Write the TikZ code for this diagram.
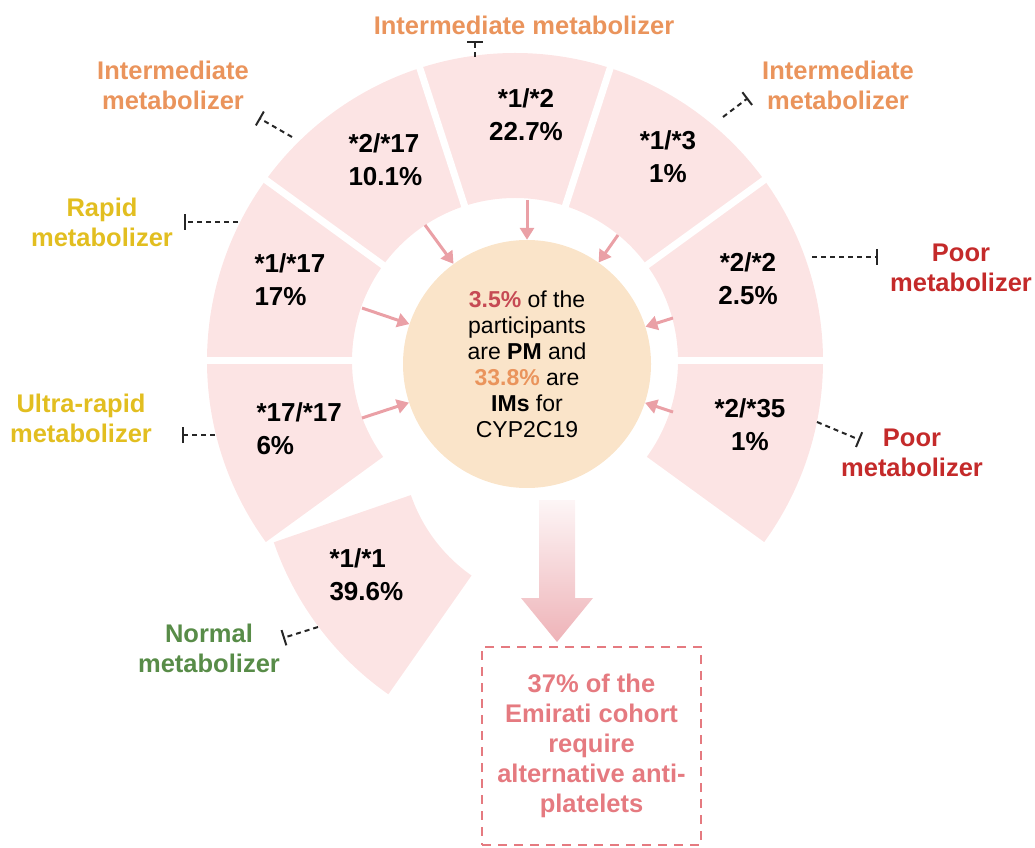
\documentclass[tikz,border=0pt]{standalone}
\usepackage{fontspec}
\setmainfont{Liberation Sans}
\usepackage{tikz}
\usetikzlibrary{arrows.meta,positioning,calc}
\definecolor{slicepink}{RGB}{252,228,228}
\definecolor{hubpeach}{RGB}{250,228,201}
\definecolor{imorange}{RGB}{234,148,92}
\definecolor{rmyellow}{RGB}{226,190,32}
\definecolor{pmred}{RGB}{196,42,42}
\definecolor{nmgreen}{RGB}{88,140,72}
\definecolor{flowpink}{RGB}{234,160,166}
\definecolor{cohortpink}{RGB}{229,122,128}
\definecolor{pctred}{RGB}{198,74,84}
% annular slice: centre, start angle, end angle
\newcommand{\slice}[3]{%
  \fill[slicepink] (#1) ++(#2:163) arc[start angle=#2, end angle=#3, radius=163]
    -- ++(#3:145) arc[start angle=#3, end angle=#2, radius=308] -- cycle;}

\begin{document}
\begin{tikzpicture}[x=1pt, y=1pt,
    every node/.style={font=\fontsize{25.5}{30}\selectfont},
    geno/.style={font=\fontsize{26}{33}\selectfont\bfseries, align=center},
    phen/.style={font=\fontsize{25.5}{30}\selectfont\bfseries, align=center},
    flow/.style={flowpink, line width=3pt, -{Triangle[length=12pt,width=14pt]}},
    tick/.style={black!85, line width=2pt, dash pattern=on 5pt off 4pt,
      -{Bar[width=16pt,line width=2pt]}}]
  \useasboundingbox (0,0) rectangle (1035,847);

  % ring of genotype slices
  \coordinate (ring) at (515,486);
  \coordinate (wt) at (565,405);
  \foreach \a in {-36,0,...,180} {
    \pgfmathsetmacro{\b}{\a+36}
    \slice{ring}{\a}{\b}
  }
  \foreach \a in {0,36,...,180}
    \draw[white, line width=7pt] (ring) ++(\a:155) -- ++(\a:160);
  \slice{wt}{199}{235}

  % centre summary
  \node[circle, fill=hubpeach, minimum size=248pt, inner sep=0pt, align=center,
        font=\fontsize{23}{26}\selectfont] (hub) at (527,483)
    {\textcolor{pctred}{\bfseries 3.5\%} of the\\participants\\are \textbf{PM} and\\
     \textcolor{imorange}{\bfseries 33.8\%} are\\\textbf{IMs} for\\CYP2C19};

  % genotype labels
  \node[geno] (g12) at (526,732) {*1/*2\\22.7\%};
  \node[geno] (g13) at (668,690) {*1/*3\\1\%};
  \node[geno] (g22) at (748,568) {*2/*2\\2.5\%};
  \node[geno] (g235) at (750,422) {*2/*35\\1\%};
  \node[geno, anchor=west, align=left] (g217) at (345,687) {*2/*17\\10.1\%};
  \node[geno, anchor=west, align=left] (g117) at (251,567) {*1/*17\\17\%};
  \node[geno, anchor=west, align=left] (g1717) at (253,418) {*17/*17\\6\%};
  \node[geno, anchor=west, align=left] (g11) at (326,272) {*1/*1\\39.6\%};

  % arrows into the centre
  \coordinate (f90) at (527,647);
  \coordinate (f126) at (425,622);
  \coordinate (f54) at (618,612);
  \coordinate (f162) at (362,539);
  \coordinate (f198) at (362,429);
  \coordinate (f18) at (673,529);
  \coordinate (f342) at (673,435);
  \foreach \f in {f90,f126,f54,f162,f198,f18,f342}
    \draw[flow] (\f) -- (hub);

  % result
  \shade[top color=flowpink!10, bottom color=flowpink!80]
    (539,347) -- (575,347) -- (575,249) -- (593,249) -- (557,205)
    -- (521,249) -- (539,249) -- cycle;
  \node[draw=cohortpink, dash pattern=on 9pt off 7pt, line width=2pt,
        minimum width=219pt, minimum height=198pt, text=cohortpink,
        font=\fontsize{25.5}{30}\selectfont\bfseries, align=center]
    (cohort) at (591.5,101)
    {37\% of the\\Emirati cohort\\require\\alternative anti-\\platelets};

  % phenotype labels
  \node[phen, imorange] (imtop) at (524,822) {Intermediate metabolizer};
  \node[phen, imorange] (imleft) at (173,762) {Intermediate\\metabolizer};
  \node[phen, imorange] (imright) at (838,762) {Intermediate\\metabolizer};
  \node[phen, rmyellow] (rm) at (102,625) {Rapid\\metabolizer};
  \node[phen, rmyellow] (urm) at (81,429) {Ultra-rapid\\metabolizer};
  \node[phen, nmgreen] (nm) at (209,199) {Normal\\metabolizer};
  \node[phen, pmred] (pmright) at (961,579) {Poor\\metabolizer};
  \node[phen, pmred] (pmlow) at (912,394) {Poor\\metabolizer};

  % dashed ticks to the labels
  \coordinate (t12a) at (475,790);   \coordinate (t12b) at (475,806);
  \coordinate (t217a) at (292,710);  \coordinate (t217b) at (259,729);
  \coordinate (t13a) at (723,730);   \coordinate (t13b) at (748,749);
  \coordinate (t117a) at (238,625);  \coordinate (t117b) at (184,625);
  \coordinate (t1717a) at (215,412); \coordinate (t1717b) at (182,412);
  \coordinate (t11a) at (318,220);   \coordinate (t11b) at (283,209);
  \coordinate (t22a) at (812,590);   \coordinate (t22b) at (878,590);
  \coordinate (t235a) at (817,425);  \coordinate (t235b) at (860,407);
  \foreach \t in {t12,t217,t13,t117,t1717,t11,t22,t235}
    \draw[tick] (\t a) -- (\t b);
\end{tikzpicture}
\end{document}
